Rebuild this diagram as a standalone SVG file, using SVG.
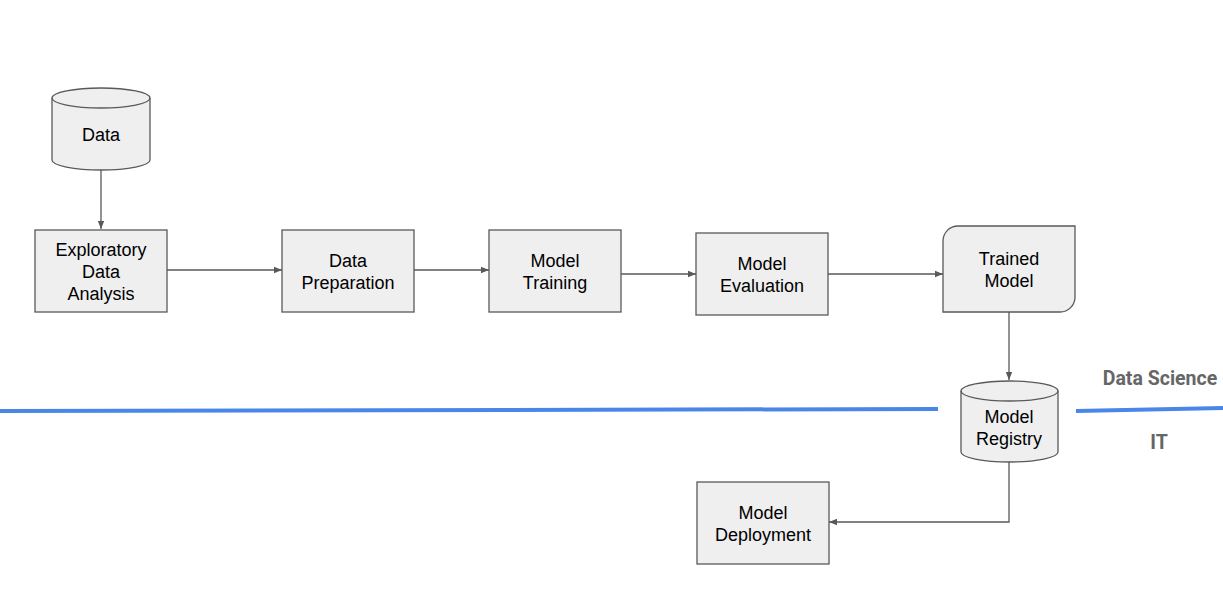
<svg xmlns="http://www.w3.org/2000/svg" width="1223" height="591" viewBox="0 0 1223 591">
<style>
.n{fill:#efefef;stroke:#595959;stroke-width:1.3}
.t{font-family:"Liberation Sans",Arial,sans-serif;font-size:18px;fill:#000;text-anchor:middle}
.c{fill:none;stroke:#595959;stroke-width:1.3}
.lab{font-family:Roboto,"Liberation Sans",sans-serif;font-size:19.5px;font-weight:bold;fill:#666;text-anchor:middle}
.sep{stroke:#4a86e8;stroke-width:4;fill:none}
</style>
<defs>
<marker id="a" viewBox="0 0 10 10" refX="10" refY="5" markerWidth="8" markerHeight="8" markerUnits="userSpaceOnUse" orient="auto">
<path d="M0,1 L10,5 L0,9 z" fill="#595959"/>
</marker>
</defs>
<rect width="1223" height="591" fill="#fff"/>
<g id="separator">
<path class="sep" d="M0,411 L938,409"/>
<path class="sep" d="M1076,411 L1223,408"/>
</g>
<g id="connectors">
<path class="c" d="M101,170 L101,229" marker-end="url(#a)"/>
<path class="c" d="M167,270 L282,270" marker-end="url(#a)"/>
<path class="c" d="M414,270 L489,270" marker-end="url(#a)"/>
<path class="c" d="M621,274 L696,274" marker-end="url(#a)"/>
<path class="c" d="M828,274 L943,274" marker-end="url(#a)"/>
<path class="c" d="M1009,312 L1009,380" marker-end="url(#a)"/>
<path class="c" d="M1009,462 L1009,522 L829,522" marker-end="url(#a)"/>
</g>
<g id="data">
<path class="n" d="M52,98 L52,160 A49,10 0 0 0 150,160 L150,98 A49,10 0 0 0 52,98 Z"/>
<path class="c" d="M52,98 A49,10 0 0 0 150,98"/>
<text class="t" x="101" y="141">Data</text>
</g>
<g id="eda">
<rect class="n" x="35" y="230" width="132" height="82"/>
<text class="t" x="101" y="256">Exploratory</text>
<text class="t" x="101" y="278">Data</text>
<text class="t" x="101" y="300">Analysis</text>
</g>
<g id="prep">
<rect class="n" x="282" y="230" width="132" height="82"/>
<text class="t" x="348" y="267">Data</text>
<text class="t" x="348" y="289">Preparation</text>
</g>
<g id="training">
<rect class="n" x="489" y="230" width="132" height="82"/>
<text class="t" x="555" y="267">Model</text>
<text class="t" x="555" y="289">Training</text>
</g>
<g id="evaluation">
<rect class="n" x="696" y="233" width="132" height="82"/>
<text class="t" x="762" y="270">Model</text>
<text class="t" x="762" y="292">Evaluation</text>
</g>
<g id="trained">
<path class="n" d="M958,226 L1075,226 L1075,297 A15,15 0 0 1 1060,312 L943,312 L943,241 A15,15 0 0 1 958,226 Z"/>
<text class="t" x="1009" y="265">Trained</text>
<text class="t" x="1009" y="287">Model</text>
</g>
<g id="registry">
<path class="n" d="M961,391 L961,452 A48.5,10 0 0 0 1058,452 L1058,391 A48.5,10 0 0 0 961,391 Z"/>
<path class="c" d="M961,391 A48.5,10 0 0 0 1058,391"/>
<text class="t" x="1009" y="423">Model</text>
<text class="t" x="1009" y="445">Registry</text>
</g>
<g id="deployment">
<rect class="n" x="697" y="482" width="132" height="82"/>
<text class="t" x="763" y="519">Model</text>
<text class="t" x="763" y="541">Deployment</text>
</g>
<g id="labels">
<text class="lab" x="1160" y="385">Data Science</text>
<text class="lab" x="1159" y="449">IT</text>
</g>
</svg>
